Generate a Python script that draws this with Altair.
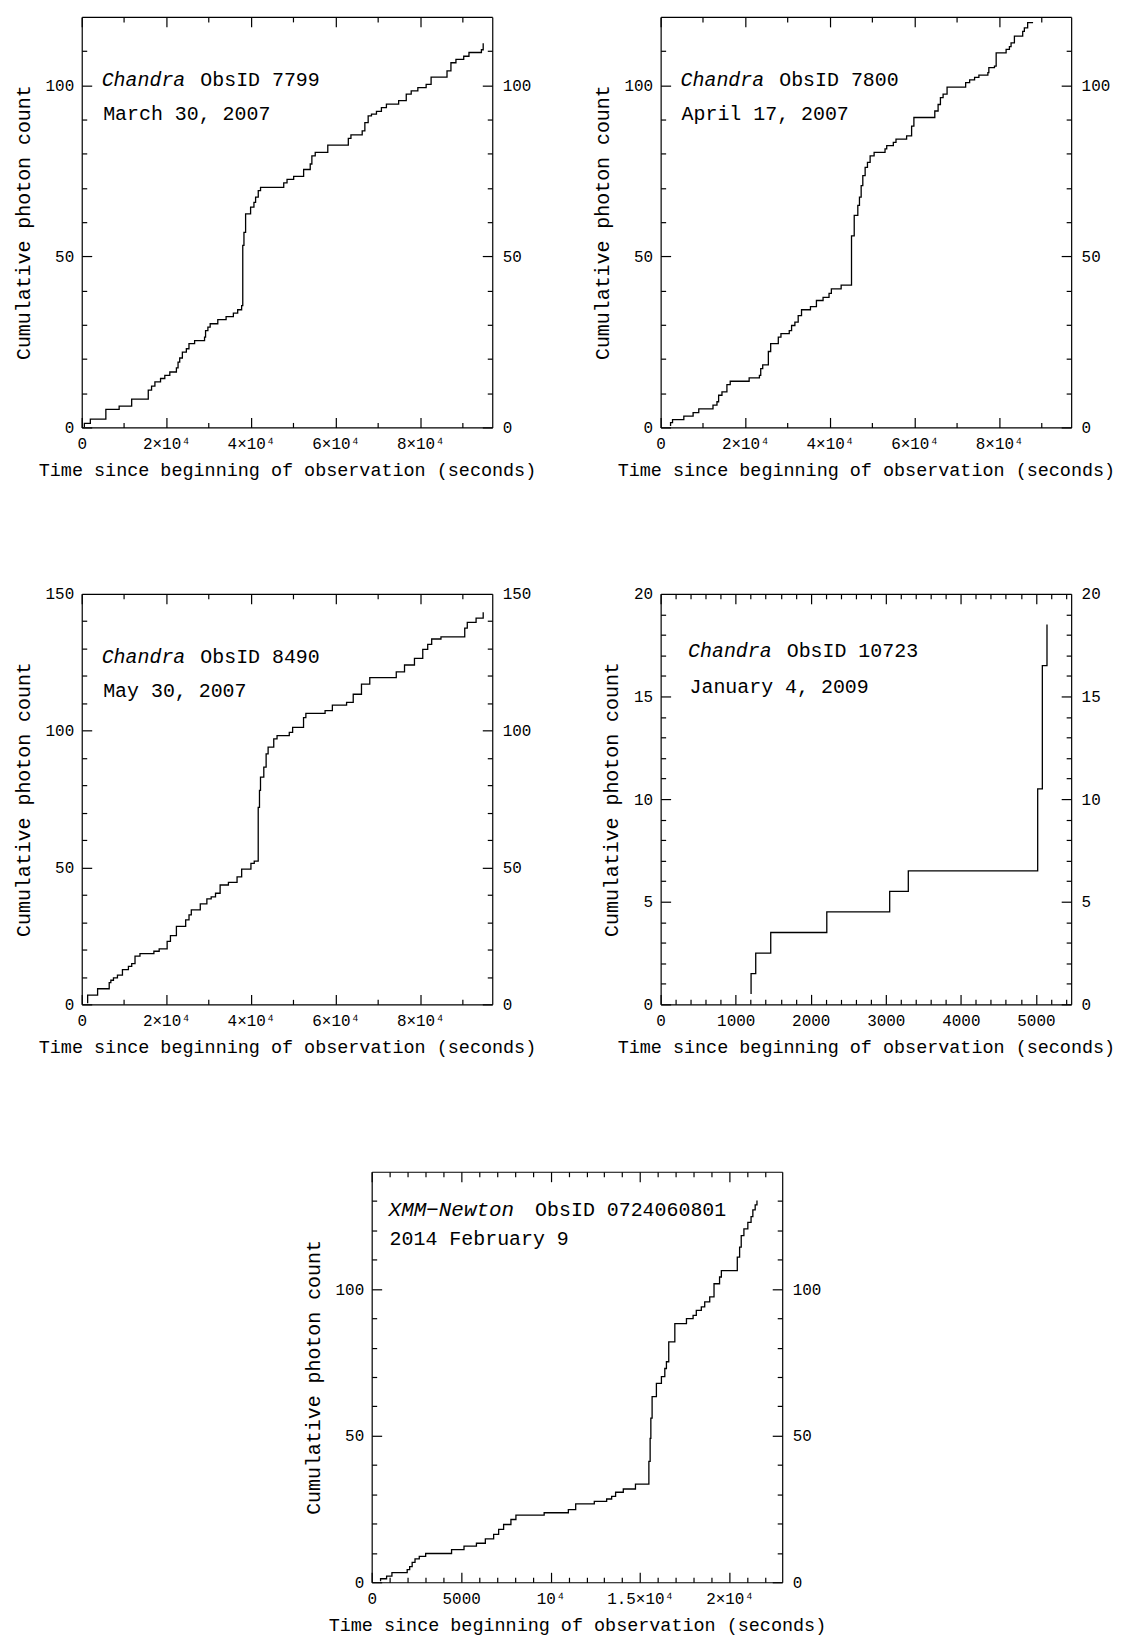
import altair as alt
import pandas as pd

FONT = "Liberation Mono"
W = 412
H = 412

X_TITLE = "Time since beginning of observation (seconds)"
Y_TITLE = "Cumulative photon count"

# ---------------- data ----------------
# Chandra ObsID 7799
t1 = [620, 620, 2030, 5700, 8840, 11800, 15720, 16500, 17290, 18620,
      19630, 20810, 22370, 22760, 23150, 23780, 24720, 25340, 26670, 29020,
      29260, 29810, 30350, 32150, 34110, 35830, 36850, 37780, 38050, 38330,
      38720, 39900, 40690, 41080, 41710, 42250, 47730, 48510, 50080, 52430,
      53990, 54380, 55170, 58140, 62990, 63610, 66270, 66900, 67680, 68460,
      69640, 70810, 71990, 74880, 76680, 77850, 79420, 81380, 82550, 86310,
      87240, 88420, 90260, 91500, 94440, 94860]
c1 = [0.1, 1.2, 2.4, 5.3, 6.2, 8.3, 10.9, 12.1, 13.3, 14.3,
      15.2, 16.2, 17.4, 19.1, 20.3, 22.0, 23.0, 24.5, 25.4, 26.4,
      28.3, 29.3, 30.3, 31.5, 32.4, 33.4, 34.4, 35.6, 53.2, 57.0,
      62.4, 64.4, 65.8, 67.3, 69.2, 70.2, 71.5, 72.5, 73.4, 75.4,
      77.0, 79.4, 80.4, 82.5, 84.5, 85.5, 86.7, 89.1, 91.1, 91.6,
      92.4, 93.5, 94.5, 95.5, 97.4, 98.4, 99.3, 100.3, 102.4, 104.2,
      106.6, 107.6, 108.5, 109.6, 110.4, 112.3]

# Chandra ObsID 7800
t2 = [2340, 2340, 2810, 5480, 7670, 9010, 12370, 13310, 13700, 14490,
      15660, 16440, 20910, 23340, 23650, 24120, 25450, 26000, 27800, 28430,
      30390, 30940, 31720, 32500, 33290, 35400, 36810, 38380, 39790, 40340,
      42650, 45100, 45740, 46590, 46980, 47380, 47770, 48320, 48870, 49500,
      50440, 53020, 53420, 54980, 55610, 58120, 59300, 59840, 64780, 65560,
      66110, 66740, 67680, 72070, 73010, 74180, 75200, 77320, 77550, 78880,
      79280, 81630, 82410, 82800, 83590, 85550, 85940, 86720, 88000]
c2 = [0.4, 1.4, 2.3, 3.3, 4.3, 5.4, 6.5, 7.5, 9.4, 10.4,
      12.5, 13.5, 14.5, 15.2, 17.2, 18.3, 22.2, 24.5, 26.4, 27.4,
      28.3, 29.8, 30.8, 32.7, 34.4, 35.3, 37.1, 38.0, 39.2, 40.5,
      41.6, 56.0, 62.0, 64.9, 67.3, 70.7, 73.6, 76.0, 77.5, 79.4,
      80.4, 81.4, 82.4, 83.3, 84.3, 85.2, 88.1, 90.6, 92.5, 94.4,
      96.4, 97.4, 99.5, 100.8, 101.6, 102.3, 103.0, 103.7, 105.2, 105.6,
      109.5, 110.5, 111.3, 112.4, 114.4, 115.8, 116.8, 118.3, 118.3]

# Chandra ObsID 8490
t3 = [1400, 1400, 3750, 6490, 6880, 7500, 8440, 9620, 11030, 11810,
      12590, 13760, 17050, 18300, 20180, 20960, 22370, 24560, 25350, 25890,
      28010, 29570, 30590, 31610, 32700, 34660, 36700, 37790, 39980, 40760,
      41700, 42000, 42240, 43020, 43570, 44040, 45370, 46150, 49040, 49830,
      52410, 52960, 57500, 59220, 62580, 64150, 66100, 68060, 74320, 76270,
      78620, 80580, 81750, 82690, 84880, 90500, 91100, 93180, 94860]
c3 = [0.4, 3.4, 5.7, 7.9, 8.8, 9.7, 10.7, 12.7, 13.9, 14.9,
      17.6, 18.5, 19.4, 20.3, 23.0, 25.1, 28.5, 30.9, 32.7, 34.5,
      36.7, 38.5, 39.3, 40.6, 43.6, 44.6, 46.6, 49.4, 51.5, 52.3,
      72.0, 78.2, 83.0, 86.7, 91.5, 94.0, 97.0, 98.2, 99.4, 101.2,
      104.8, 106.3, 107.3, 109.3, 110.3, 113.3, 117.0, 119.4, 121.5, 124.0,
      126.4, 129.7, 131.5, 133.5, 134.3, 137.5, 139.6, 141.1, 143.3]

# Chandra ObsID 10723
t4 = [1205, 1205, 1267, 1467, 2214, 3052, 3300, 5024, 5086, 5148]
c4 = [0.5, 1.5, 2.5, 3.5, 4.5, 5.5, 6.5, 10.5, 16.5, 18.5]

# XMM-Newton ObsID 0724060801
t5 = [496, 496, 833, 1131, 1984, 2123, 2262, 2421, 2659, 3016,
      4464, 5159, 5853, 6351, 6815, 7094, 7372, 7781, 8060, 9638,
      10990, 11400, 12440, 13130, 13410, 13630, 14060, 14740, 15490, 15560,
      15600, 15670, 15910, 16190, 16380, 16470, 16600, 16940, 17590, 17960,
      18140, 18420, 18610, 18890, 19130, 19440, 19540, 20430, 20560, 20650,
      20800, 21020, 21200, 21300, 21430, 21530]
c5 = [0.3, 1.2, 2.1, 3.3, 4.3, 5.3, 6.8, 8.0, 8.8, 9.8,
      11.1, 12.3, 13.3, 14.8, 16.3, 18.0, 19.7, 21.4, 22.9, 23.7,
      24.8, 26.7, 27.6, 28.4, 29.3, 30.7, 31.8, 33.5, 41.2, 49.1,
      56.0, 63.3, 67.8, 70.1, 72.9, 75.2, 82.0, 88.2, 89.9, 91.0,
      92.7, 93.9, 95.6, 97.3, 101.8, 104.1, 106.3, 110.9, 114.3, 118.2,
      120.5, 122.7, 124.7, 127.0, 128.7, 130.2]

# axis tick labels
x_vals_chandra = [0, 20000, 40000, 60000, 80000]
x_labels_chandra = ["0", "2×10⁴", "4×10⁴", "6×10⁴", "8×10⁴"]
x_vals_short = [0, 1000, 2000, 3000, 4000, 5000]
x_labels_short = ["0", "1000", "2000", "3000", "4000", "5000"]
x_vals_xmm = [0, 5000, 10000, 15000, 20000]
x_labels_xmm = ["0", "5000", "10⁴", "1.5×10⁴", "2×10⁴"]

y_vals_120 = [0, 50, 100]
y_vals_150 = [0, 50, 100, 150]
y_vals_20 = [0, 5, 10, 15, 20]

# annotation texts
mission = ["Chandra", "Chandra", "Chandra", "Chandra", "XMM−Newton"]
obsid = ["ObsID 7799", "ObsID 7800", "ObsID 8490", "ObsID 10723", "ObsID 0724060801"]
dates = ["March 30, 2007", "April 17, 2007", "May 30, 2007", "January 4, 2009",
         "2014 February 9"]

LABEL_SIZE = 16


def label_expr(vals, labels):
    lab = ",".join("'" + s + "'" for s in labels)
    val = ",".join(str(v) for v in vals)
    return "[" + lab + "][indexof([" + val + "], datum.value)]"


def tick_size(major_step, big=10, small=5):
    return {"condition": {"test": f"datum.value % {major_step} === 0", "value": big},
            "value": small}


def txt(s, x, y, size=20, italic=False):
    return alt.Chart(pd.DataFrame({"s": [s]})).mark_text(
        align="left", baseline="alphabetic", font=FONT, fontSize=size,
        fontStyle="italic" if italic else "normal", color="black"
    ).encode(x=alt.value(x), y=alt.value(y), text="s:N")


def panel(t, c, xmax, ymax, xvals, xlabels, xminor, xmajor_step,
          yvals, yminor, ymajor_step, k, ann):
    df = pd.DataFrame({"t": t, "c": c, "i": list(range(len(t)))})
    xs = alt.Scale(domain=[0, xmax], nice=False, zero=False)
    ys = alt.Scale(domain=[0, ymax], nice=False, zero=False)
    base = alt.Chart(df)

    xt = list(range(0, xmax, xminor))
    yt = list(range(0, ymax, yminor))

    main = base.mark_line(interpolate="step-after", color="black", strokeWidth=1.3).encode(
        x=alt.X("t:Q", scale=xs, axis=alt.Axis(
            orient="bottom", values=xvals, labelExpr=label_expr(xvals, xlabels),
            ticks=False, tickSize=0, domain=False, labelPadding=8,
            labelFontSize=LABEL_SIZE,
            title=X_TITLE, titleFontSize=18.5, titlePadding=9)),
        y=alt.Y("c:Q", scale=ys, axis=alt.Axis(
            orient="left", values=yvals, ticks=False, tickSize=0, domain=False,
            labelPadding=8, labelFontSize=LABEL_SIZE, title=Y_TITLE,
            titleFontSize=20, titlePadding=12)),
        order="i:Q",
    )
    lb = base.mark_line(strokeOpacity=0).encode(
        x=alt.X("t:Q", scale=xs, axis=alt.Axis(
            orient="top", offset=-H, values=xt, labels=False, domain=True,
            tickSize=tick_size(xmajor_step), title=None)),
        y=alt.Y("c:Q", scale=ys, axis=alt.Axis(
            orient="right", values=yvals, ticks=False, tickSize=0, domain=False,
            labelPadding=10, labelFontSize=LABEL_SIZE, title=None)),
        order="i:Q",
    )
    lc = base.mark_line(strokeOpacity=0).encode(
        x=alt.X("t:Q", scale=xs, axis=alt.Axis(
            orient="bottom", offset=-H, values=xt, labels=False, domain=True,
            tickSize=tick_size(xmajor_step), title=None)),
        y=alt.Y("c:Q", scale=ys, axis=alt.Axis(
            orient="right", offset=-W, values=yt, labels=False, domain=True,
            tickSize=tick_size(ymajor_step), title=None)),
        order="i:Q",
    )
    ld = base.mark_line(strokeOpacity=0).encode(
        x=alt.X("t:Q", scale=xs, axis=None),
        y=alt.Y("c:Q", scale=ys, axis=alt.Axis(
            orient="left", offset=-W, values=yt, labels=False, domain=True,
            tickSize=tick_size(ymajor_step), title=None)),
        order="i:Q",
    )
    (mx, my, ox, l2x, l2y, msize) = ann
    texts = [
        txt(mission[k], mx, my, size=msize, italic=True),
        txt(obsid[k], ox, my),
        txt(dates[k], l2x, l2y),
    ]
    return alt.layer(main, lb, lc, ld, *texts).resolve_axis(
        x="independent", y="independent").properties(width=W, height=H)


p1 = panel(t1, c1, 97000, 120, x_vals_chandra, x_labels_chandra, 10000, 20000,
           y_vals_120, 10, 50, 0, (20, 69, 119, 21.5, 103, 20))
p2 = panel(t2, c2, 97000, 120, x_vals_chandra, x_labels_chandra, 10000, 20000,
           y_vals_120, 10, 50, 1, (20, 69, 119, 21, 103, 20))
p3 = panel(t3, c3, 97000, 150, x_vals_chandra, x_labels_chandra, 10000, 20000,
           y_vals_150, 10, 50, 2, (20, 69, 119, 21.5, 104, 20))
p4 = panel(t4, c4, 5470, 20, x_vals_short, x_labels_short, 200, 1000,
           y_vals_20, 1, 5, 3, (27.5, 63, 126.5, 29, 100, 20))
p5 = panel(t5, c5, 22940, 140, x_vals_xmm, x_labels_xmm, 1000, 5000,
           y_vals_120, 10, 50, 4, (17, 44, 164, 18, 74, 21))

spacer = alt.Chart(pd.DataFrame({"v": [0]})).mark_point(opacity=0, size=0).encode(
    x=alt.X("v:Q", axis=None), y=alt.Y("v:Q", axis=None)
).properties(width=290.5, height=10)

row1 = alt.hconcat(p1, p2, spacing=169, bounds="flush")
row2 = alt.hconcat(p3, p4, spacing=169, bounds="flush")
row3 = alt.hconcat(spacer, p5, spacing=0, bounds="flush")

chart = alt.vconcat(
    alt.vconcat(row1, row2, spacing=107),
    row3, spacing=115,
).properties(
    padding={"left": 5, "top": 5, "right": 0, "bottom": 0}
).configure_axis(
    labelFont=FONT, titleFont=FONT, labelColor="black", titleColor="black",
    titleFontWeight="normal", domainColor="black", tickColor="black",
    grid=False, labelFlush=False, labelOverlap=False,
    domainWidth=1.2, tickWidth=1.2,
).configure_view(stroke=None)

chart.save("out.html", embed_options={"renderer": "svg", "actions": False})
